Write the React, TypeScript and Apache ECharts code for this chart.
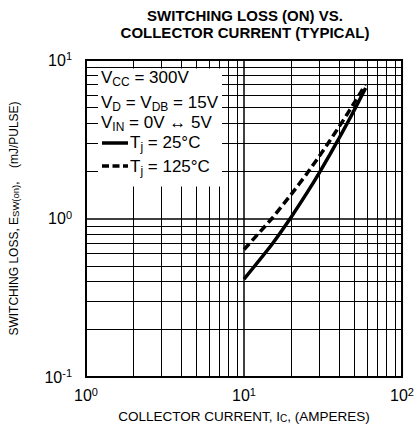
import React, { useEffect, useRef } from "react";
import * as echarts from "echarts";

const FONT = "Liberation Sans, Arial, Helvetica, sans-serif";

// Data (log–log)
const currentTj25 = [10, 15, 20, 25, 30, 35, 40, 45, 50, 55, 58.8];
const lossTj25 = [0.415, 0.686, 1.03, 1.45, 1.95, 2.54, 3.22, 3.99, 4.86, 5.84, 6.66];
const currentTj125 = [10, 15, 20, 25, 30, 35, 40, 45, 50, 55, 58.4];
const lossTj125 = [0.637, 1.0, 1.43, 1.92, 2.48, 3.11, 3.8, 4.56, 5.4, 6.3, 6.96];

const xMinorGrid = [2, 3, 4, 5, 6, 7, 8, 9, 20, 30, 40, 50, 60, 70, 80, 90];
const yMinorGrid = [0.2, 0.3, 0.4, 0.5, 0.6, 0.7, 0.8, 0.9, 2, 3, 4, 5, 6, 7, 8, 9];

const titleLines = ["SWITCHING LOSS (ON) VS.", "COLLECTOR CURRENT (TYPICAL)"];

const pow10Label = (v: number) => {
  const e = Math.round(Math.log10(v));
  return `{a|10}{b|${e}}`;
};

const tickRich = {
  a: { fontSize: 16, lineHeight: 19, color: "#000", fontFamily: FONT },
  b: { fontSize: 11, lineHeight: 11, verticalAlign: "top", color: "#000", fontFamily: FONT },
};

const legRich = {
  m: { fontSize: 17, lineHeight: 21, color: "#000", fontFamily: FONT },
  s: { fontSize: 12, lineHeight: 13, verticalAlign: "bottom", color: "#000", fontFamily: FONT },
};

export default function App() {
  const ref = useRef<HTMLDivElement>(null);
  useEffect(() => {
    if (!ref.current) return;
    const chart = echarts.init(ref.current, null, { renderer: "svg" });
    const legendText = (txt: string, x: number, y: number) => ({
      type: "text",
      z: 101,
      style: {
        text: txt,
        x,
        y,
        verticalAlign: "middle",
        textAlign: "left",
        rich: legRich,
        fontSize: 17,
        fontFamily: FONT,
        fill: "#000",
      },
    });
    chart.setOption({
      animation: false,
      backgroundColor: "#fff",
      grid: {
        left: 85,
        right: 11,
        top: 60,
        bottom: 51,
        show: true,
        borderColor: "#000",
        borderWidth: 2,
        backgroundColor: "transparent",
        z: 10,
      },
      xAxis: {
        type: "log",
        logBase: 10,
        min: 1,
        max: 100,
        axisLine: { show: false },
        axisTick: { show: false },
        splitLine: { show: true, lineStyle: { color: "#000", width: 1.5 } },
        axisLabel: { formatter: pow10Label, rich: tickRich, margin: 9 },
        name: "COLLECTOR CURRENT, I{s|C}, (AMPERES)",
        nameLocation: "middle",
        nameGap: 32,
        nameTextStyle: {
          fontSize: 13.5,
          fontFamily: FONT,
          color: "#000",
          rich: {
            s: { fontSize: 10, lineHeight: 10, verticalAlign: "bottom", fontFamily: FONT, color: "#000" },
          },
        },
      },
      yAxis: {
        type: "log",
        logBase: 10,
        min: 0.1,
        max: 10,
        axisLine: { show: false },
        axisTick: { show: false },
        splitLine: { show: true, lineStyle: { color: "#000", width: 1.5 } },
        axisLabel: { formatter: pow10Label, rich: tickRich, margin: 14 },
        name: "SWITCHING LOSS, E{s|SW(on)},    (mJ/PULSE)",
        nameLocation: "middle",
        nameRotate: 90,
        nameGap: 66,
        nameTextStyle: {
          fontSize: 12,
          fontFamily: FONT,
          color: "#000",
          rich: {
            s: { fontSize: 9.5, lineHeight: 8, verticalAlign: "bottom", fontFamily: FONT, color: "#000" },
          },
        },
      },
      series: [
        {
          name: "Tj = 25°C",
          type: "line",
          smooth: 0.2,
          symbol: "none",
          z: 3,
          lineStyle: { color: "#000", width: 3.5, type: "solid" },
          data: currentTj25.map((c, i) => [c, lossTj25[i]]),
          markLine: {
            silent: true,
            symbol: "none",
            z: 1,
            label: { show: false },
            lineStyle: { color: "#000", width: 1, type: "solid" },
            data: [
              ...xMinorGrid.map((v) => ({ xAxis: v })),
              ...yMinorGrid.map((v) => ({ yAxis: v })),
            ],
          },
        },
        {
          name: "Tj = 125°C",
          type: "line",
          smooth: 0.2,
          symbol: "none",
          z: 3,
          lineStyle: { color: "#000", width: 3.5, type: [8, 4] },
          data: currentTj125.map((c, i) => [c, lossTj125[i]]),
        },
      ],
      graphic: [
        {
          type: "text",
          z: 101,
          style: {
            text: titleLines.join("\n"),
            x: 245,
            y: 6.5,
            textAlign: "center",
            fontSize: 15,
            fontWeight: "bold",
            fontFamily: FONT,
            lineHeight: 17,
            fill: "#000",
          },
        },
        {
          type: "rect",
          z: 100,
          shape: { x: 98, y: 68.5, width: 124, height: 118 },
          style: { fill: "#fff" },
        },
        legendText("{m|V}{s|CC}{m| = 300V}", 101, 77.5),
        legendText("{m|V}{s|D}{m| = V}{s|DB}{m| = 15V}", 101, 102.5),
        legendText("{m|V}{s|IN}{m| = 0V ↔ 5V}", 101, 122.5),
        {
          type: "line",
          z: 101,
          shape: { x1: 102, y1: 143, x2: 128, y2: 143 },
          style: { stroke: "#000", lineWidth: 3.5 },
        },
        legendText("{m|T}{s|j}{m| = 25°C}", 130, 142.5),
        {
          type: "line",
          z: 101,
          shape: { x1: 102, y1: 166, x2: 128, y2: 166 },
          style: { stroke: "#000", lineWidth: 3.5, lineDash: [7, 3.5] },
        },
        legendText("{m|T}{s|j}{m| = 125°C}", 130, 166),
      ],
    });
    return () => chart.dispose();
  }, []);
  return (
    <div
      ref={ref}
      style={{ position: "fixed", left: 0, top: 0, width: 417, height: 428, background: "#fff" }}
    />
  );
}
